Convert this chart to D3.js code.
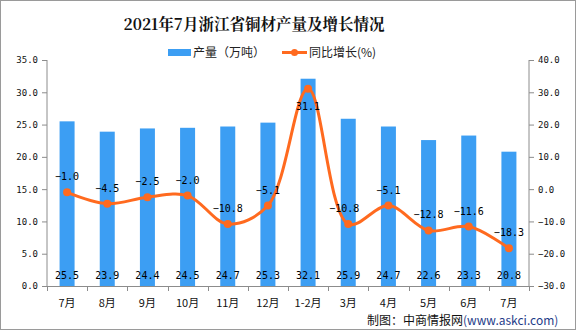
<!DOCTYPE html>
<html><head><meta charset="utf-8">
<script src="https://cdn.jsdelivr.net/npm/d3@7"></script>
<style>
html,body{margin:0;padding:0;background:#fff;}
svg{display:block;}
</style></head>
<body>
<svg id="c" width="576" height="330"></svg>
<script>
const categories = ["7月","8月","9月","10月","11月","12月","1-2月","3月","4月","5月","6月","7月"];
const production = [25.5,23.9,24.4,24.5,24.7,25.3,32.1,25.9,24.7,22.6,23.3,20.8];
const growth = [-1.0,-4.5,-2.5,-2.0,-10.8,-5.1,31.1,-10.8,-5.1,-12.8,-11.6,-18.3];
const leftTicks = [0,5,10,15,20,25,30,35];
const rightTicks = [-30,-20,-10,0,10,20,30,40];

const svg = d3.select("#c");
const W = 576, H = 330;
const L = 47, R = 529, T = 60, B = 286;
const barColor = "#3C9EF3", lineColor = "#FF6A1F", axisColor = "#8c8c8c";
const numFont = "'DejaVu Sans Mono', 'Liberation Mono', monospace";
const cjkFont = "'Noto Sans CJK SC', 'Noto Sans', sans-serif";

// frame
svg.append("rect").attr("x",0.5).attr("y",0.5).attr("width",W-1).attr("height",H-1)
  .attr("fill","#fff").attr("stroke","#9a9a9a");

const x = d3.scaleBand().domain(d3.range(categories.length)).range([L,R]).padding(0);
const yL = d3.scaleLinear().domain([0,35]).range([B,T]);
const yR = d3.scaleLinear().domain([-30,40]).range([B,T]);

// title
svg.append("text").attr("x",254).attr("y",30).attr("text-anchor","middle")
  .style("font-family","'Noto Serif CJK SC','Noto Sans CJK SC',serif").style("font-weight","bold")
  .style("font-size","15.5px").attr("fill","#111")
  .text("2021年7月浙江省铜材产量及增长情况");

// legend
svg.append("rect").attr("x",168).attr("y",49).attr("width",23).attr("height",7).attr("fill",barColor);
svg.append("text").attr("x",193).attr("y",57).style("font-family",cjkFont).style("font-size","12px")
  .attr("fill","#222").text("产量（万吨）");
svg.append("line").attr("x1",282).attr("x2",307).attr("y1",52.5).attr("y2",52.5)
  .attr("stroke",lineColor).attr("stroke-width",3);
svg.append("circle").attr("cx",294.5).attr("cy",52.5).attr("r",3.5).attr("fill",lineColor);
svg.append("text").attr("x",309).attr("y",57).style("font-family",cjkFont).style("font-size","12px")
  .attr("fill","#222").text("同比增长(%)");

// axes
const fmt = d3.format(".1f");
const gL = svg.append("g").attr("transform",`translate(${L},0)`)
  .call(d3.axisLeft(yL).tickValues(leftTicks).tickFormat(fmt).tickSize(5).tickPadding(4));
const gR = svg.append("g").attr("transform",`translate(${R},0)`)
  .call(d3.axisRight(yR).tickValues(rightTicks).tickFormat(fmt).tickSize(5).tickPadding(4));
[gL,gR].forEach(g=>{
  g.select(".domain").attr("stroke",axisColor).attr("d", g===gL ? `M0,${T}V${B}` : `M0,${T}V${B}`);
  g.selectAll(".tick line").attr("stroke",axisColor);
  g.selectAll(".tick text").attr("fill","#111").style("font-family",numFont).style("font-size","9px");
});

// x axis
const gX = svg.append("g");
gX.append("line").attr("x1",L).attr("x2",R).attr("y1",B+0.5).attr("y2",B+0.5).attr("stroke",axisColor);
const bounds = d3.range(categories.length+1).map(i => L + i*x.bandwidth());
gX.selectAll("line.tk").data(bounds).join("line").attr("class","tk")
  .attr("x1",d=>Math.round(d)+0.5).attr("x2",d=>Math.round(d)+0.5).attr("y1",B).attr("y2",B+5)
  .attr("stroke",axisColor);
gX.selectAll("text").data(categories).join("text")
  .attr("x",(d,i)=>x(i)+x.bandwidth()/2).attr("y",307).attr("text-anchor","middle")
  .style("font-family",cjkFont).style("font-size","11px").attr("fill","#111").text(d=>d);

// bars
const bw = 15;
svg.append("g").selectAll("rect").data(production).join("rect")
  .attr("x",(d,i)=>x(i)+x.bandwidth()/2-bw/2).attr("width",bw)
  .attr("y",d=>yL(d)).attr("height",d=>B-yL(d)).attr("fill",barColor);

// bar labels
svg.append("g").selectAll("text").data(production).join("text")
  .attr("x",(d,i)=>x(i)+x.bandwidth()/2).attr("y",279).attr("text-anchor","middle")
  .style("font-family",numFont).style("font-size","10px").attr("fill","#000").text(d=>fmt(d));

// line
const cx = i => x(i)+x.bandwidth()/2;
const line = d3.line().x((d,i)=>cx(i)).y(d=>yR(d)).curve(d3.curveCatmullRom.alpha(0.5));
svg.append("path").datum(growth).attr("d",line).attr("fill","none")
  .attr("stroke",lineColor).attr("stroke-width",3);
svg.append("g").selectAll("circle").data(growth).join("circle")
  .attr("cx",(d,i)=>cx(i)).attr("cy",d=>yR(d)).attr("r",4).attr("fill",lineColor);

// line labels
svg.append("g").selectAll("text").data(growth).join("text")
  .attr("x",(d,i)=>cx(i)-(i===7?4:0))
  .attr("y",(d,i)=> i===6 ? yR(d)+21 : yR(d)-12)
  .attr("text-anchor","middle")
  .style("font-family",numFont).style("font-size","10px").attr("fill","#000").text(d=>fmt(d));

// footer
const ft = svg.append("text").attr("x",367).attr("y",325).style("font-family",cjkFont).style("font-size","12px");
ft.append("tspan").attr("fill","#111").text("制图：中商情报网");
ft.append("tspan").attr("fill","#1f3c88").text("(www.askci.com)");
</script>
</body></html>
